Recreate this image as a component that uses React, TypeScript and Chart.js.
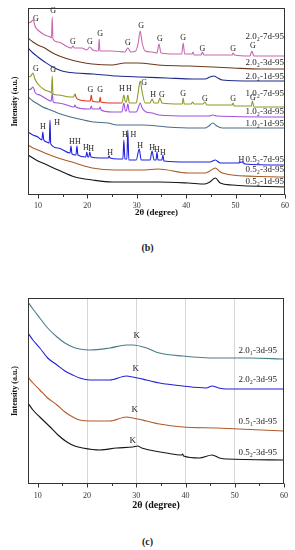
import React, { useEffect, useRef } from "react";
import { Chart, registerables } from "chart.js";
Chart.register(...registerables);

type Pt = [number, number];
type Ann = [string, number, number];
type Lab = [string, number];

const FONT = '"Liberation Serif", "Times New Roman", serif';
const X_MIN = 8;
const X_MAX = 60;
const MAJOR_TICKS = [10, 20, 30, 40, 50, 60];
const MINOR_TICKS = [15, 25, 35, 45, 55];

// ---------- Panel (b) : 2θ, intensity (a.u.) ----------
const b_20_2_7d: Pt[] = [[8.0,172],[8.6,173],[9.0,175],[9.5,168],[10.0,165],[11.4,160],[12.5,158],[12.75,157],[12.9,178],[13.05,156],[14.1,153],[16.1,148],[16.8,147],[17.1,149],[17.4,147],[18.9,147],[19.9,145],[20.5,148],[21.1,145],[22.0,144],[22.25,144],[22.4,156],[22.55,144],[25.0,144],[27.6,143],[28.2,147],[28.8,143],[29.8,144],[30.3,152],[30.7,164],[31.1,152],[31.7,144],[33.1,143],[34.1,142],[34.5,151],[34.9,142],[37.8,141],[39.1,141],[39.4,152],[39.7,141],[41.2,141],[41.4,143],[41.6,140],[43.0,140],[43.3,143],[43.6,140],[47.9,140],[49.3,140],[49.5,142],[49.8,140],[52.9,139],[53.3,144],[53.7,139],[57.0,139],[60.0,139]];
const b_20_2_3d: Pt[] = [[8,157],[9,153],[10,150],[11.4,147],[13,142],[16.1,136],[18.5,133],[21.0,131],[25.0,130],[27.6,132],[30.3,132],[34.3,130],[40.2,129],[45.4,128],[49.5,127],[55,126],[60,126]];
const b_20_2_1d: Pt[] = [[8,147],[9,142],[10,138],[11.4,133],[13,128],[14.9,124],[17.5,122],[21.2,121],[26.0,119],[30.7,118],[36.1,117],[41.4,116],[43.8,116],[44.8,118],[45.6,119],[46.4,117],[47.3,115],[53.5,114],[60,114]];
const b_10_2_7d: Pt[] = [[8.0,118],[8.6,119],[9.0,122],[9.4,116],[10.0,111],[11.4,105],[12.5,103],[12.75,102],[12.9,119],[13.05,101],[14.1,100],[16.5,98],[17.2,98],[17.5,101],[17.8,97],[18.5,95],[20.1,94],[20.6,94],[20.8,100],[21.0,94],[22.2,93],[22.45,93],[22.6,98],[22.75,93],[25.0,92],[27.0,92],[27.4,100],[27.7,93],[27.9,93],[28.2,100],[28.5,92],[29.9,92],[30.3,103],[30.7,114],[31.1,103],[31.7,92],[32.7,92],[33.1,96],[33.5,92],[34.3,92],[34.7,97],[35.1,92],[38.8,91],[39.2,91],[39.4,97],[39.6,91],[41.0,91],[41.3,93],[41.6,91],[43.4,91],[43.8,93],[44.2,90],[48.9,90],[49.3,90],[49.5,92],[49.7,89],[52.9,89],[53.2,89],[53.4,94],[53.7,88],[60,88]];
const b_10_2_3d: Pt[] = [[8.0,105],[8.6,106],[9.0,108],[9.5,102],[10.4,100],[12.1,95],[12.7,94],[12.9,102],[13.1,93],[14.1,92],[16.5,89],[17.3,88],[17.5,90],[17.7,88],[20.1,86],[20.6,86],[20.8,89],[21.0,86],[22.4,86],[22.6,88],[22.8,85],[25.0,83],[27.0,83],[27.4,92],[27.7,84],[27.9,84],[28.2,91],[28.5,83],[29.9,83],[30.3,87],[30.7,92],[31.1,87],[31.9,83],[33.1,82],[34.5,80],[41,79],[44.6,79],[45.4,80],[46.2,79],[60,78]];
const b_10_2_1d: Pt[] = [[8,98],[9,94],[10,91],[11.0,88],[12.0,86],[14,82],[15.9,79],[17.5,77],[21.2,73],[24.2,72],[26.0,70],[31.1,70],[36.1,68],[41.4,67],[43.8,67],[44.6,69],[45.4,72],[46.2,69],[47.3,67],[53.5,67],[60,67]];
const b_05_2_7d: Pt[] = [[8.0,63],[9.0,60],[10.0,58],[10.8,55],[11.0,63],[11.2,55],[11.8,53],[12.3,52],[12.45,75],[12.6,51],[14.1,47],[16.5,42],[16.7,49],[16.9,41],[17.7,40],[17.9,49],[18.1,40],[19.7,38],[19.9,43],[20.1,38],[20.3,38],[20.5,43],[20.75,38],[22.6,37],[24.2,37],[24.4,39],[24.6,37],[26.2,36],[27.2,36],[27.4,55],[27.6,36],[28.0,36],[28.2,65],[28.4,35],[29.9,35],[30.5,46],[30.9,35],[32.7,35],[33.1,44],[33.5,35],[33.9,35],[34.1,43],[34.3,35],[35.1,35],[35.3,40],[35.5,34],[40.4,33],[44.8,33],[45.9,35],[46.9,32],[50.5,32],[51.3,33],[51.9,31],[60,30]];
const b_05_2_3d: Pt[] = [[8,50],[9,47],[10,45],[11.4,42],[14.1,37],[17.5,32],[21.0,27],[25.6,25],[31.1,25],[34.3,26],[40.4,22],[43.8,22],[44.8,24],[45.9,27],[46.9,23],[49.3,20],[60,18]];
const b_05_2_1d: Pt[] = [[8,40],[9,37],[10,34],[11,32],[14.1,25],[17.5,18],[21.0,15],[25.0,13],[31.1,13],[34.3,13],[40.4,12],[43.8,11],[44.8,13],[45.9,17],[46.9,12],[49.3,10],[60,8]];

const b_labels: Lab[] = [["2.0₂-7d-95",158],["2.0₂-3d-95",132],["2.0₂-1d-95",118],["1.0₂-7d-95",101],["1.0₂-3d-95",83],["1.0₂-1d-95",71],["0.5₂-7d-95",35],["0.5₂-3d-95",25],["0.5₂-1d-95",13]];
const b_peaks: Ann[] = [
  ["G",9.6,176],["G",13.1,184],["G",17.1,153],["G",20.5,153],["G",22.6,161],["G",28.2,152],["G",30.9,169],["G",34.7,156],["G",39.4,157],["G",43.3,146],["G",49.5,146],["G",53.5,149],
  ["G",9.6,126],["G",13.1,125],["G",20.6,105],["G",22.6,105],["H",27.0,106],["H",28.4,106],["G",31.5,112],["H",33.3,100],["G",35.1,100],["G",39.4,101],["G",43.8,96],["G",49.5,96],["G",53.5,97],
  ["H",11.0,68],["H",13.9,72],["H",16.9,53],["H",18.1,53],["H",19.7,47],["H",20.75,46],["H",24.6,42],["H",27.6,60],["H",29.3,60],["H",30.7,49],["H",33.1,47],["H",34.1,45],["H",35.3,42],["H",51.2,35]
];

// ---------- Panel (c) ----------
const c_20_1_3d: Pt[] = [[8,182],[9,175],[10.4,166],[12.0,156],[13.9,147],[15.5,141],[17.1,137],[18.5,135],[20.6,134],[24.6,136],[28.0,139],[29.3,139],[32.1,136],[34.7,131],[39.4,128],[46.3,126],[52.9,126],[60,125]];
const c_20_2_3d: Pt[] = [[8,151],[9,144],[10.4,136],[12,126],[13.9,119],[15.5,113],[17.1,109],[18.5,106],[20.6,104],[24.6,104],[28,108],[29.3,107],[32.1,104],[34.7,101],[39.4,98],[44.2,96],[45.4,98],[46.7,96],[48.3,95],[60,95]];
const c_05_1_3d: Pt[] = [[8,107],[9,101],[10.4,94],[12,86],[13.9,79],[15.5,72],[17.1,67],[18.5,64],[20.6,63],[24.6,63],[28,67],[29.3,66],[32.1,63],[34.7,60],[39.4,57],[46.3,56],[60,53]];
const c_05_2_3d: Pt[] = [[8,81],[9,74],[10.4,67],[12.5,57],[14.1,49],[15.9,42],[17.5,38],[19.1,36],[22.6,34],[26.0,36],[29.3,37],[30.3,38],[31.1,36],[32.7,34],[36.1,31],[39.2,29],[39.4,30],[39.6,28],[42.8,26],[45.4,29],[46.9,26],[48.3,25],[60,24]];

const c_labels: Lab[] = [["2.0₁-3d-95",133],["2.0₂-3d-95",104],["0.5₁-3d-95",62],["0.5₂-3d-95",31]];
const c_peaks: Ann[] = [["K",30.1,148],["K",29.9,115],["K",29.7,74],["K",29.3,43]];

const RED = "#e0341e";

interface Series { data: Pt[]; color: string; red?: [number, number]; }
interface PanelCfg {
  series: Series[];
  ann: Ann[];
  annSize: number;
  labels: Lab[];
  labelInset: number;
  yMax: number;
  grid: boolean;
  xHeight: number;
  tickPad: number;
  titleSize: number;
  titlePadBottom: number;
  padBottom: number;
}

const PANEL_B: PanelCfg = {
  series: [
    { data: b_20_2_7d, color: "#c868b0" },
    { data: b_20_2_3d, color: "#6b3a1e" },
    { data: b_20_2_1d, color: "#1e2a8c" },
    { data: b_10_2_7d, color: "#8c9a28", red: [17.3, 27.2] },
    { data: b_10_2_3d, color: "#a050e0" },
    { data: b_10_2_1d, color: "#4a6e8a" },
    { data: b_05_2_7d, color: "#2020e0" },
    { data: b_05_2_3d, color: "#a85a28" },
    { data: b_05_2_1d, color: "#151515" },
  ],
  ann: b_peaks, annSize: 8, labels: b_labels, labelInset: 1, yMax: 187, grid: false,
  xHeight: 26, tickPad: 6, titleSize: 9, titlePadBottom: 3, padBottom: 4,
};

const PANEL_C: PanelCfg = {
  series: [
    { data: c_20_1_3d, color: "#4a7c8a" },
    { data: c_20_2_3d, color: "#2020d8" },
    { data: c_05_1_3d, color: "#b05a2a" },
    { data: c_05_2_3d, color: "#151515" },
  ],
  ann: c_peaks, annSize: 9, labels: c_labels, labelInset: 7, yMax: 186, grid: true,
  xHeight: 27, tickPad: 7, titleSize: 10, titlePadBottom: 0, padBottom: 4,
};

function Panel({ cfg, top, height }: { cfg: PanelCfg; top: number; height: number }) {
  const ref = useRef<HTMLCanvasElement>(null);
  useEffect(() => {
    const frame = {
      id: "frame",
      afterDatasetsDraw(chart: any) {
        const { ctx, chartArea: a, scales } = chart;
        const x = scales.x, y = scales.y;
        ctx.save();
        ctx.fillStyle = "#222";
        ctx.textBaseline = "middle";
        ctx.textAlign = "center";
        ctx.font = `${cfg.annSize}px ${FONT}`;
        for (const [t, vx, vy] of cfg.ann) ctx.fillText(t, x.getPixelForValue(vx), y.getPixelForValue(vy));
        ctx.textAlign = "right";
        ctx.font = `9px ${FONT}`;
        for (const [t, vy] of cfg.labels) ctx.fillText(t, a.right - cfg.labelInset, y.getPixelForValue(vy));
        ctx.strokeStyle = "#333";
        ctx.lineWidth = 1;
        const l = Math.round(a.left) + 0.5, r = Math.round(a.right) - 0.5;
        const t = Math.round(a.top) + 0.5, b = Math.round(a.bottom) - 0.5;
        ctx.strokeRect(l, t, r - l, b - t);
        ctx.beginPath();
        for (const v of MAJOR_TICKS) {
          const px = Math.round(x.getPixelForValue(v)) + 0.5;
          ctx.moveTo(px, b); ctx.lineTo(px, b + 4);
        }
        for (const v of MINOR_TICKS) {
          const px = Math.round(x.getPixelForValue(v)) + 0.5;
          ctx.moveTo(px, b); ctx.lineTo(px, b + 2.5);
        }
        ctx.stroke();
        ctx.restore();
      },
    };
    const chart = new Chart(ref.current as HTMLCanvasElement, {
      type: "line",
      data: {
        datasets: cfg.series.map((s) => ({
          data: s.data.map(([px, py]) => ({ x: px, y: py })),
          borderColor: s.color,
          borderWidth: 1.1,
          pointRadius: 0,
          fill: false,
          tension: 0.4,
          cubicInterpolationMode: "monotone",
          segment: s.red
            ? { borderColor: (c: any) => (c.p0.parsed.x >= s.red![0] && c.p1.parsed.x <= s.red![1] ? RED : undefined) }
            : undefined,
        })) as any,
      },
      options: {
        responsive: false,
        animation: false,
        devicePixelRatio: 1,
        layout: { padding: { left: 0, right: 10, top: 8, bottom: cfg.padBottom } },
        plugins: { legend: { display: false }, tooltip: { enabled: false } },
        scales: {
          x: {
            type: "linear",
            min: X_MIN,
            max: X_MAX,
            afterBuildTicks: (s: any) => { s.ticks = MAJOR_TICKS.map((v) => ({ value: v })); },
            afterFit: (s: any) => { s.height = cfg.xHeight; },
            grid: {
              display: cfg.grid,
              drawTicks: false,
              color: (c: any) => (c.tick && c.tick.value > 10 && c.tick.value < 60 ? "#d6d6d6" : "rgba(0,0,0,0)"),
            },
            border: { display: false },
            ticks: { font: { family: FONT, size: 8 }, color: "#333", padding: cfg.tickPad, maxRotation: 0, autoSkip: false },
            title: {
              display: true, text: "2θ (degree)", color: "#111",
              font: { family: FONT, size: cfg.titleSize, weight: "bold" },
              padding: { top: 0, bottom: cfg.titlePadBottom },
            },
          },
          y: {
            min: 0,
            max: cfg.yMax,
            afterFit: (s: any) => { s.width = 28; },
            ticks: { display: false },
            grid: { display: false },
            border: { display: false },
            title: {
              display: true, text: "Intensity (a.u.)", color: "#111",
              font: { family: FONT, size: 8, weight: "bold" },
              padding: { top: 10, bottom: 0 },
            },
          },
        },
      } as any,
      plugins: [frame],
    });
    return () => chart.destroy();
  }, []);
  return (
    <canvas ref={ref} width={295} height={height}
      style={{ position: "absolute", left: 0, top, width: 295, height, display: "block" }} />
  );
}

const capStyle = (top: number): React.CSSProperties => ({
  position: "absolute", left: 0, top, width: 295, textAlign: "center",
  fontFamily: FONT, fontSize: 10, fontWeight: "bold", lineHeight: "12px", color: "#222",
});

export default function App() {
  return (
    <div style={{ position: "absolute", left: 0, top: 0, width: 295, height: 550, background: "#fff" }}>
      <Panel cfg={PANEL_B} top={0} height={225} />
      <div style={capStyle(242)}>(b)</div>
      <Panel cfg={PANEL_C} top={290} height={225} />
      <div style={capStyle(536)}>(c)</div>
    </div>
  );
}
